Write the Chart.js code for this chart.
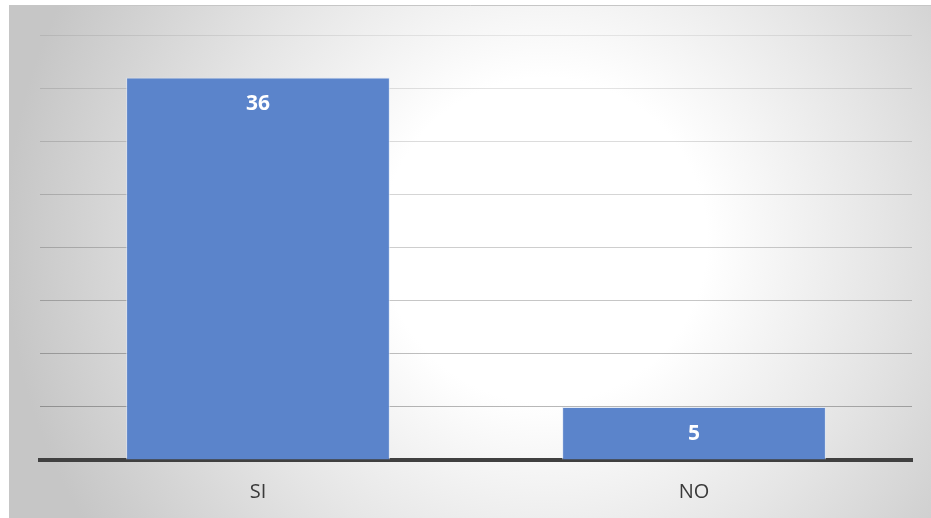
<!DOCTYPE html>
<html>
<head>
<meta charset="utf-8">
<style>
  html, body { margin: 0; padding: 0; background: #ffffff; }
  #wrap { width: 931px; height: 518px; }
</style>
<script src="https://cdn.jsdelivr.net/npm/chart.js@4.4.1/dist/chart.umd.min.js"></script>
</head>
<body>
<div id="wrap"><canvas id="chart" width="931" height="518"></canvas></div>
<script>
// Survey answers
const categories = ['SI', 'NO'];
const counts = [36, 5];

// Value axis range (no tick labels are shown, only gridlines)
const axisMin = 0;
const axisMax = 40;
const axisStep = 5;

// Soft radial backdrop with a thin frame on the top and left edges
const backdrop = {
  id: 'backdrop',
  beforeDraw(chart) {
    const ctx = chart.ctx;
    const w = chart.width, h = chart.height;
    ctx.save();
    ctx.fillStyle = '#ffffff';
    ctx.fillRect(0, 0, w, h);
    const g = ctx.createRadialGradient(545, 240, 0, 545, 240, 540);
    g.addColorStop(0, '#ffffff');
    g.addColorStop(0.3, '#ffffff');
    g.addColorStop(0.62, '#e6e6e6');
    g.addColorStop(1, '#c6c6c6');
    ctx.fillStyle = g;
    ctx.fillRect(9, 5, w - 9, h - 5);
    ctx.strokeStyle = '#c6c6c6';
    ctx.lineWidth = 1;
    ctx.beginPath();
    ctx.moveTo(9.5, h);
    ctx.lineTo(9.5, 5.5);
    ctx.lineTo(w, 5.5);
    ctx.stroke();
    ctx.restore();
  }
};

// Value labels drawn inside the top end of each bar
const valueLabels = {
  id: 'valueLabels',
  afterDatasetsDraw(chart) {
    const ctx = chart.ctx;
    ctx.save();
    ctx.font = 'bold 21px "Open Sans", sans-serif';
    ctx.fillStyle = '#ffffff';
    ctx.textAlign = 'center';
    ctx.textBaseline = 'middle';
    chart.data.datasets.forEach((ds, di) => {
      const meta = chart.getDatasetMeta(di);
      meta.data.forEach((bar, i) => {
        ctx.fillText(String(ds.data[i]), bar.x, bar.y + 27);
      });
    });
    ctx.restore();
  }
};

new Chart(document.getElementById('chart'), {
  type: 'bar',
  data: {
    labels: categories,
    datasets: [{
      data: counts,
      backgroundColor: '#5b84cb',
      borderColor: 'rgba(220,230,245,0.7)',
      borderWidth: 1,
      categoryPercentage: 1.0,
      barPercentage: 0.605
    }]
  },
  options: {
    responsive: false,
    animation: false,
    devicePixelRatio: 1,
    layout: { padding: { left: 40, right: 19, top: 35, bottom: 0 } },
    plugins: {
      legend: { display: false },
      tooltip: { enabled: false },
      title: { display: false }
    },
    scales: {
      x: {
        grid: { display: false, drawTicks: false },
        border: { display: true, color: '#404040', width: 4 },
        ticks: {
          color: '#3a3a3a',
          padding: 20,
          font: { family: '"Open Sans", sans-serif', size: 20 }
        },
        afterFit(scale) { scale.height = 58; }
      },
      y: {
        min: axisMin,
        max: axisMax,
        ticks: { display: false, stepSize: axisStep },
        border: { display: false },
        grid: {
          drawTicks: false,
          lineWidth: 1,
          color(ctx) {
            const v = ctx.tick ? ctx.tick.value : 0;
            const a = 0.08 + 0.2 * (axisMax - v) / (axisMax - axisStep);
            return 'rgba(0,0,0,' + a.toFixed(3) + ')';
          }
        },
        afterFit(scale) { scale.width = 0; }
      }
    }
  },
  plugins: [backdrop, valueLabels]
});
</script>
</body>
</html>
